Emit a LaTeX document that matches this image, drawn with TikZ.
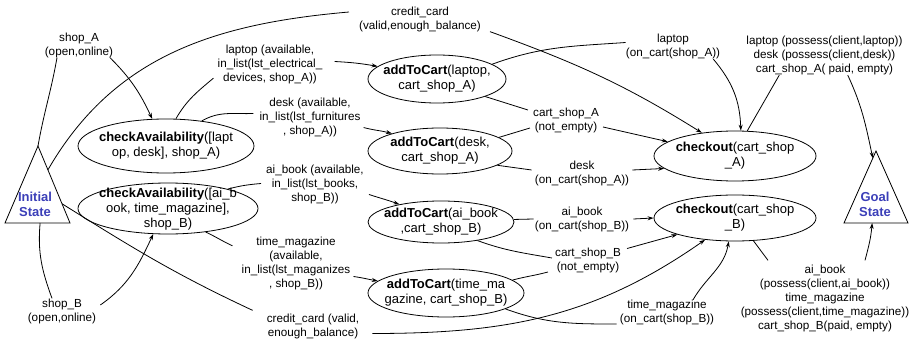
\documentclass[tikz,border=0pt]{standalone}
\usepackage{fontspec}
\setmainfont{Liberation Sans}
\usetikzlibrary{arrows.meta,shapes.geometric,calc}
\definecolor{stateblue}{RGB}{59,63,184}
\newcommand\lblfont{\fontsize{11.7}{14}\selectfont}
\newcommand\actfont{\fontsize{13}{15}\selectfont}
\newcommand\statefont{\fontsize{13}{15}\selectfont\bfseries}
\begin{document}
\begin{tikzpicture}[x=1pt,y=1pt,
  wire/.style={line width=0.8pt},
  arr/.style={wire,-{Stealth[length=6pt,width=4pt]}},
  lbl/.style={font=\lblfont,align=center,inner sep=0pt},
  act/.style={ellipse,draw,line width=0.8pt,inner sep=0pt},
  acttext/.style={font=\actfont,align=center,inner sep=0pt},
  statetext/.style={font=\statefont,text=stateblue,align=center,inner sep=0pt},
]
\useasboundingbox (0,0) rectangle (910,-342);

% initial and goal states
\coordinate (initApex) at (38,-146);
\coordinate (initL) at (5,-223);
\coordinate (initR) at (70,-223);
\draw[wire] (initL) -- (initApex) -- (initR) -- cycle;
\node[statetext] (initLbl) at (35,-204.5) {Initial\\State};
\coordinate (goalApex) at (876,-151);
\coordinate (goalL) at (844,-223);
\coordinate (goalR) at (908,-223);
\draw[wire] (goalL) -- (goalApex) -- (goalR) -- cycle;
\node[statetext] (goalLbl) at (875,-204.5) {Goal\\State};

% actions
\node[act,minimum width=176pt,minimum height=54pt,
  label={[acttext]center:{\textbf{checkAvailability}([lapt\\op, desk], shop\_A)}}] (caA) at (166,-146) {};
\node[act,minimum width=180pt,minimum height=51pt,
  label={[acttext,yshift=-1pt]center:{\textbf{checkAvailability}([ai\_b\\ook, time\_magazine],\\shop\_B)}}] (caB) at (168,-208.5) {};
\node[act,minimum width=138pt,minimum height=48pt,
  label={[acttext]center:{\textbf{addToCart}(laptop,\\cart\_shop\_A)}}] (atcL) at (437,-79) {};
\node[act,minimum width=144pt,minimum height=46pt,
  label={[acttext]center:{\textbf{addToCart}(desk,\\cart\_shop\_A)}}] (atcD) at (440,-151) {};
\node[act,minimum width=146pt,minimum height=42pt,
  label={[acttext]center:{\textbf{addToCart}(ai\_book\\,cart\_shop\_B)}}] (atcAI) at (441,-222) {};
\node[act,minimum width=156pt,minimum height=48pt,
  label={[acttext]center:{\textbf{addToCart}(time\_ma\\gazine, cart\_shop\_B)}}] (atcTM) at (446,-293) {};
\node[act,minimum width=162pt,minimum height=50pt,
  label={[acttext]center:{\textbf{checkout}(cart\_shop\\\_A)}}] (coA) at (735,-156) {};
\node[act,minimum width=162pt,minimum height=46pt,
  label={[acttext]center:{\textbf{checkout}(cart\_shop\\\_B)}}] (coB) at (735,-218) {};

% conditions
\node[lbl] (shopA) at (79,-45) {shop\_A\\(open,online)};
\node[lbl] (shopB) at (62,-311) {shop\_B\\(open,online)};
\node[lbl] (ccTop) at (420,-19) {credit\_card\\(valid,enough\_balance)};
\node[lbl] (laptopAv) at (270,-64.5) {laptop (available,\\in\_list(lst\_electrical\_\\devices, shop\_A))};
\node[lbl] (deskAv) at (310,-117.5) {desk (available,\\in\_list(lst\_furnitures\\, shop\_A))};
\node[lbl] (aiAv) at (315,-184.5) {ai\_book (available,\\in\_list(lst\_books,\\shop\_B))};
\node[lbl] (tmAv) at (296,-263.5) {time\_magazine\\(available,\\in\_list(lst\_maganizes\\, shop\_B))};
\node[lbl] (ccLow) at (313,-326.5) {credit\_card (valid,\\enough\_balance)};
\node[lbl] (cartA) at (566,-120) {cart\_shop\_A\\(not\_empty)};
\node[lbl] (deskCart) at (582,-173.5) {desk\\(on\_cart(shop\_A))};
\node[lbl] (aiCart) at (582,-219) {ai\_book\\(on\_cart(shop\_B))};
\node[lbl] (cartB) at (588,-260.5) {cart\_shop\_B\\(not\_empty)};
\node[lbl] (laptopCart) at (673,-46.5) {laptop\\(on\_cart(shop\_A))};
\node[lbl] (possA) at (824.5,-55.5) {laptop (possess(client,laptop))\\desk (possess(client,desk))\\cart\_shop\_A( paid, empty)};
\node[lbl] (tmCart) at (667,-312.5) {time\_magazine\\(on\_cart(shop\_B))};
\node[lbl] (possB) at (825,-298) {ai\_book\\(possess(client,ai\_book))\\time\_magazine\\(possess(client,time\_magazine))\\cart\_shop\_B(paid, empty)};

% initial state to the checks
\draw[wire] (initApex) to[out=80,in=-100] ([xshift=-22pt]shopA.south);
\draw[arr] ([xshift=31pt]shopA.south) to[out=-45,in=115] (caA.117);
\draw[wire] ($(initApex)!0.31!(initR)$) to[out=60,in=185] ([shift={(-10pt,7pt)}]ccTop.west);
\draw[arr] ([xshift=9pt]ccTop.south east) to[out=-20,in=148] (coA.145);
\draw[wire] ($(initL)!0.54!(initR)$) to[out=-95,in=110] ([xshift=-10pt]shopB.north);
\draw[arr] ([shift={(4pt,6pt)}]shopB.east) to[out=35,in=-115] (caB.240);
\draw[wire] ($(initApex)!0.75!(initR)$) to[out=-32,in=155] ([shift={(-14pt,3.5pt)}]ccLow.north west);
\draw[arr] ([shift={(13pt,-7pt)}]ccLow.east) to[out=0,in=-145] (coB.216);

% checks to add-to-cart
\draw[wire] (caA.70) to[out=60,in=-140] ([shift={(-4pt,6pt)}]laptopAv.south west);
\draw[arr] ([shift={(12pt,3pt)}]laptopAv.east) to[out=-3,in=170] (atcL.168);
\draw[wire] (caA.35) to[out=30,in=182] ([shift={(-6pt,4pt)}]deskAv.west);
\draw[arr] ([shift={(3pt,-10pt)}]deskAv.east) to[out=-15,in=165] (atcD.160);
\draw[wire] (caB.18) to[out=15,in=185] ([shift={(-5pt,1pt)}]aiAv.west);
\draw[arr] ([shift={(5pt,-10pt)}]aiAv.east) to[out=-18,in=160] (atcAI.157);
\draw[wire] (caB.328) to[out=-25,in=155] ([shift={(-9pt,-9pt)}]tmAv.north west);
\draw[arr] ([shift={(3pt,-13pt)}]tmAv.east) to[out=-8,in=170] (atcTM.170);

% add-to-cart to checkout
\draw[wire] (atcL.15) to[out=20,in=184] ([yshift=4pt]laptopCart.west);
\draw[arr] ([xshift=-7pt]laptopCart.south east) to[out=-50,in=92] (coA.77);
\draw[wire] (atcL.340) -- ([shift={(-5pt,10pt)}]cartA.west);
\draw[wire] (atcD.13) -- ([shift={(-3pt,-8pt)}]cartA.west);
\draw[arr] ([shift={(4pt,-7pt)}]cartA.east) -- (coA.168);
\draw[wire] (atcD.346) -- ([shift={(-3pt,3.5pt)}]deskCart.west);
\draw[arr] ([shift={(3pt,3.5pt)}]deskCart.east) -- (coA.190);
\draw[wire] (atcAI.2) -- ([xshift=-1pt]aiCart.west);
\draw[arr] ([xshift=4pt]aiCart.east) -- (coB.180);
\draw[wire] (atcAI.333) to[out=-20,in=170] ([shift={(-3pt,2.5pt)}]cartB.west);
\draw[wire] (atcTM.11) to[out=15,in=195] ([shift={(-7pt,-11.5pt)}]cartB.west);
\draw[arr] ([shift={(6pt,12pt)}]cartB.east) -- (coB.196);
\draw[wire] (atcTM.345) to[out=-20,in=180] ([shift={(-3pt,-11.5pt)}]tmCart.west);
\draw[arr] ([xshift=26pt]tmCart.north) to[out=60,in=-100] (coB.255);

% checkout to goal state
\draw[wire] (coA.64) -- ([xshift=33pt]possA.south west);
\draw[arr] ([xshift=-55pt]possA.south east) to[out=-65,in=102] ($(goalApex)!0.1!(goalL)$);
\draw[wire] (coB.309) -- ([shift={(-57pt,4pt)}]possB.north);
\draw[arr] ([shift={(40pt,4pt)}]possB.north) to[out=75,in=-95] ($(goalL)!0.44!(goalR)$);
\end{tikzpicture}
\end{document}
